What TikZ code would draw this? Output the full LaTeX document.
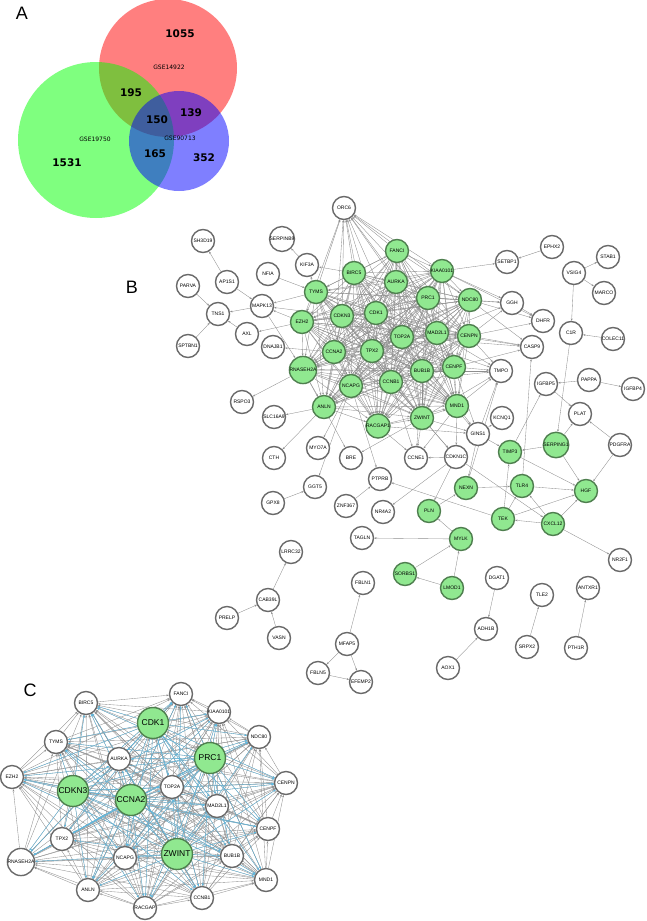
\documentclass[tikz,border=0pt]{standalone}
\usepackage{fontspec}
\setmainfont{Liberation Sans}
\newfontfamily\vennfont{DejaVu Sans}
\usetikzlibrary{arrows.meta,backgrounds}
\definecolor{edgegray}{HTML}{8E8E8E}
\definecolor{ringgray}{HTML}{6A6A6A}
\definecolor{gfill}{HTML}{90E890}
\definecolor{gring}{HTML}{4F7F4F}
\definecolor{cblue}{HTML}{5ABDE8}
\tikzset{
  arr/.style={-{Stealth[length=2.4pt,width=1.9pt]}, draw=edgegray, line width=0.35pt},
  barr/.style={-{Stealth[length=2.4pt,width=1.9pt]}, draw=cblue, line width=0.3pt},
  wn/.style={circle, draw=ringgray, line width=1.4pt, fill=white, minimum size=23pt, inner sep=0pt, font=\fontsize{5}{5}\selectfont},
  gn/.style={wn, draw=gring, fill=gfill},
  bgn/.style={gn, minimum size=31pt, font=\fontsize{8.5}{9}\selectfont},
  venn/.style={font=\vennfont\bfseries\fontsize{10.5}{12}\selectfont},
  vlab/.style={font=\vennfont\fontsize{6}{7}\selectfont},
  panel/.style={font=\fontsize{18}{20}\selectfont}
}
\begin{document}
\begin{tikzpicture}[x=1pt,y=-1pt]
\useasboundingbox (0,0) rectangle (647,921);
% ---------- Panel A ----------
\node[panel] (labA) at (22,13) {A};
\fill[red, opacity=0.5] (168,68) circle (69);
\fill[green, opacity=0.5] (96,140) circle (78);
\fill[blue, opacity=0.5] (179,141) circle (50);
\node[venn] (n1055) at (180,34) {1055};
\node[vlab] (gse1) at (169,67) {GSE14922};
\node[venn] (n195) at (131,93) {195};
\node[venn] (n150) at (157,120) {150};
\node[venn] (n139) at (191,113) {139};
\node[vlab] (gse3) at (180,138) {GSE90713};
\node[vlab] (gse2) at (95,139) {GSE19750};
\node[venn] (n165) at (155,154) {165};
\node[venn] (n352) at (204,158) {352};
\node[venn] (n1531) at (67,163) {1531};
% ---------- Panel B ----------
\node[panel] (labB) at (132,287) {B};
% core
\node[gn] (BIRC5) at (354,273) {BIRC5};
\node[gn] (FANCI) at (397,251) {FANCI};
\node[gn] (AURKA) at (396,282) {AURKA};
\node[gn] (KIAA0101) at (442,271) {KIAA0101};
\node[gn] (TYMS) at (316,292) {TYMS};
\node[gn] (CDKN3) at (342,316) {CDKN3};
\node[gn] (CDK1) at (376,313) {CDK1};
\node[gn] (PRC1) at (428,298) {PRC1};
\node[gn] (NDC80) at (470,300) {NDC80};
\node[gn] (EZH2) at (302,322) {EZH2};
\node[gn] (CCNA2) at (334,352) {CCNA2};
\node[gn] (TPX2) at (372,351) {TPX2};
\node[gn] (TOP2A) at (402,337) {TOP2A};
\node[gn] (MAD2L1) at (437,333) {MAD2L1};
\node[gn] (CENPN) at (469,336) {CENPN};
\node[gn] (RNASEH2A) at (303,370) {RNASEH2A};
\node[gn] (NCAPG) at (351,386) {NCAPG};
\node[gn] (CCNB1) at (391,382) {CCNB1};
\node[gn] (BUB1B) at (422,371) {BUB1B};
\node[gn] (CENPF) at (454,367) {CENPF};
\node[gn] (ANLN) at (324,407) {ANLN};
\node[gn] (RACGAP1) at (378,426) {RACGAP1};
\node[gn] (ZWINT) at (422,418) {ZWINT};
\node[gn] (MND1) at (457,406) {MND1};
% periphery
\node[wn] (ORC6) at (344,208) {ORC6};
\node[wn] (SH3D19) at (203,241) {SH3D19};
\node[wn] (SERPINB9) at (282,239) {SERPINB9};
\node[wn] (KIF3A) at (307,265) {KIF3A};
\node[wn] (NFIA) at (268,274) {NFIA};
\node[wn] (AP1S1) at (227,282) {AP1S1};
\node[wn] (PARVA) at (188,286) {PARVA};
\node[wn] (MAPK13) at (262,306) {MAPK13};
\node[wn] (TNS1) at (218,314) {TNS1};
\node[wn] (AXL) at (247,334) {AXL};
\node[wn] (SPTBN1) at (188,346) {SPTBN1};
\node[wn] (DNAJB1) at (273,347) {DNAJB1};
\node[wn] (RSPO3) at (242,402) {RSPO3};
\node[wn] (SLC16A9) at (274,417) {SLC16A9};
\node[wn] (MYO7A) at (318,448) {MYO7A};
\node[wn] (BRE) at (351,458) {BRE};
\node[wn] (CTH) at (274,458) {CTH};
\node[wn] (GGT5) at (315,487) {GGT5};
\node[wn] (GPX8) at (273,503) {GPX8};
\node[wn] (ZNF367) at (346,506) {ZNF367};
\node[wn] (PTPRB) at (380,479) {PTPRB};
\node[wn] (NR4A2) at (383,512) {NR4A2};
\node[wn] (CCNE1) at (416,458) {CCNE1};
\node[wn] (CDKN1C) at (456,457) {CDKN1C};
\node[wn] (GINS1) at (478,434) {GINS1};
\node[wn] (KCNQ1) at (502,418) {KCNQ1};
\node[wn] (TMPO) at (501,371) {TMPO};
\node[wn] (CASP9) at (532,347) {CASP9};
\node[wn] (DHFR) at (543,321) {DHFR};
\node[wn] (GGH) at (512,303) {GGH};
\node[wn] (SETBP1) at (507,262) {SETBP1};
\node[wn] (EPHX2) at (552,247) {EPHX2};
\node[wn] (VSIG4) at (574,273) {VSIG4};
\node[wn] (STAB1) at (608,257) {STAB1};
\node[wn] (MARCO) at (604,293) {MARCO};
\node[wn] (C1R) at (571,333) {C1R};
\node[wn] (COLEC11) at (613,339) {COLEC11};
\node[wn] (IGFBP5) at (546,384) {IGFBP5};
\node[wn] (PAPPA) at (589,380) {PAPPA};
\node[wn] (IGFBP4) at (633,389) {IGFBP4};
\node[wn] (PLAT) at (580,414) {PLAT};
\node[wn] (PDGFRA) at (620,445) {PDGFRA};
\node[gn] (SERPING1) at (556,445) {SERPING1};
\node[gn] (TIMP3) at (510,452) {TIMP3};
\node[gn] (NEXN) at (466,488) {NEXN};
\node[gn] (TLR4) at (522,486) {TLR4};
\node[gn] (HGF) at (586,491) {HGF};
\node[gn] (PLN) at (429,511) {PLN};
\node[gn] (TEK) at (503,519) {TEK};
\node[gn] (CXCL12) at (553,524) {CXCL12};
\node[gn] (MYLK) at (461,539) {MYLK};
\node[wn] (TAGLN) at (362,538) {TAGLN};
\node[wn] (NR2F1) at (620,560) {NR2F1};
\node[gn] (SORBS1) at (405,574) {SORBS1};
\node[gn] (LMOD1) at (452,588) {LMOD1};
\node[wn] (DGAT1) at (497,578) {DGAT1};
\node[wn] (TLE2) at (542,595) {TLE2};
\node[wn] (ANTXR1) at (588,588) {ANTXR1};
\node[wn] (ADH1B) at (486,629) {ADH1B};
\node[wn] (SRPX2) at (527,647) {SRPX2};
\node[wn] (PTH1R) at (576,648) {PTH1R};
\node[wn] (AOX1) at (448,668) {AOX1};
\node[wn] (LRRC32) at (291,552) {LRRC32};
\node[wn] (FBLN1) at (363,583) {FBLN1};
\node[wn] (CAB39L) at (268,600) {CAB39L};
\node[wn] (PRELP) at (227,618) {PRELP};
\node[wn] (VASN) at (279,638) {VASN};
\node[wn] (MFAP5) at (347,644) {MFAP5};
\node[wn] (FBLN5) at (318,673) {FBLN5};
\node[wn] (EFEMP2) at (361,682) {EFEMP2};
% ---------- Panel C ----------
\node[panel] (labC) at (30,690) {C};
\node[wn] (cFANCI) at (181,694) {FANCI};
\node[wn] (cBIRC5) at (86,703) {BIRC5};
\node[bgn] (cCDK1) at (153,723) {CDK1};
\node[wn] (cKIAA0101) at (219,712) {KIAA0101};
\node[wn] (cTYMS) at (56,742) {TYMS};
\node[wn] (cNDC80) at (259,737) {NDC80};
\node[bgn] (cPRC1) at (210,758) {PRC1};
\node[wn] (cAURKA) at (119,759) {AURKA};
\node[wn] (cEZH2) at (12,777) {EZH2};
\node[wn] (cCENPN) at (286,783) {CENPN};
\node[wn] (cTOP2A) at (172,787) {TOP2A};
\node[bgn] (cCDKN3) at (73,791) {CDKN3};
\node[bgn] (cCCNA2) at (131,800) {CCNA2};
\node[wn] (cMAD2L1) at (217,806) {MAD2L1};
\node[wn] (cCENPF) at (268,829) {CENPF};
\node[wn] (cTPX2) at (62,839) {TPX2};
\node[bgn] (cZWINT) at (177,854) {ZWINT};
\node[wn] (cBUB1B) at (232,856) {BUB1B};
\node[wn] (cNCAPG) at (125,858) {NCAPG};
\node[wn] (cRNASEH2A) at (21,862) {RNASEH2A};
\node[wn] (cMND1) at (266,880) {MND1};
\node[wn] (cANLN) at (88,890) {ANLN};
\node[wn] (cCCNB1) at (202,898) {CCNB1};
\node[wn] (cRACGAP) at (145,908) {RACGAP};
% ---------- Edges ----------
\begin{pgfonlayer}{background}
\def\corelist{BIRC5,FANCI,AURKA,KIAA0101,TYMS,CDKN3,CDK1,PRC1,NDC80,EZH2,CCNA2,TPX2,TOP2A,MAD2L1,CENPN,RNASEH2A,NCAPG,CCNB1,BUB1B,CENPF,ANLN,RACGAP1,ZWINT,MND1}
\foreach \a [count=\i] in \corelist {
  \foreach \b [count=\j] in \corelist {
    \ifnum\j>\i \draw[arr] (\a) -- (\b); \fi
  }
}
\foreach \a in {TYMS,BIRC5,CDKN3,CDK1,FANCI,AURKA,KIAA0101,PRC1,EZH2,TPX2,CCNA2,TOP2A,NDC80,MAD2L1}
  \draw[arr] (\a) -- (ORC6);
\foreach \a in {NDC80,PRC1,CENPN,MAD2L1,KIAA0101} \draw[arr] (\a) -- (GGH);
\foreach \a in {KIAA0101,NDC80,CENPN,GGH} \draw[arr] (\a) -- (DHFR);
\foreach \a in {CENPN,TOP2A,NDC80,MAD2L1,CENPF,TLR4} \draw[arr] (\a) -- (CASP9);
\foreach \a in {CENPN,CENPF,BUB1B,MND1,ZWINT,MAD2L1,CCNB1,TOP2A,GINS1,NEXN} \draw[arr] (\a) -- (TMPO);
\foreach \a in {MND1,ZWINT,CENPF,BUB1B,RACGAP1} \draw[arr] (\a) -- (GINS1);
\foreach \a in {ZWINT,RACGAP1,CCNB1,MND1,BUB1B,CDKN1C} \draw[arr] (\a) -- (CCNE1);
\foreach \a in {ZWINT,MND1,CCNB1} \draw[arr] (\a) -- (CDKN1C);
\draw[arr] (KIAA0101) -- (SETBP1);
\draw[arr] (EPHX2) -- (SETBP1);
\draw[arr] (BIRC5) -- (KIF3A);
\draw[arr] (TYMS) -- (KIF3A);
\draw[arr] (KIF3A) -- (SERPINB9);
\draw[arr] (NFIA) -- (TYMS);
\draw[arr] (AP1S1) -- (SH3D19);
\draw[arr] (AP1S1) -- (MAPK13);
\draw[arr] (PARVA) -- (TNS1);
\draw[arr] (MAPK13) -- (TNS1);
\draw[arr] (AXL) -- (TNS1);
\draw[arr] (SPTBN1) -- (TNS1);
\draw[arr] (EZH2) -- (MAPK13);
\draw[arr] (CDKN3) -- (MAPK13);
\draw[arr] (TYMS) -- (MAPK13);
\draw[arr] (MAPK13) -- (RNASEH2A);
\draw[arr] (EZH2) -- (AXL);
\draw[arr] (CCNA2) -- (DNAJB1);
\draw[arr] (RNASEH2A) -- (RSPO3);
\draw[arr] (ANLN) -- (SLC16A9);
\draw[arr] (ANLN) -- (CTH);
\draw[arr] (NCAPG) -- (MYO7A);
\draw[arr] (RNASEH2A) -- (BRE);
\draw[arr] (ZWINT) -- (BRE);
\draw[arr] (NCAPG) -- (GGT5);
\draw[arr] (GPX8) -- (GGT5);
\draw[arr] (NCAPG) -- (PTPRB);
\draw[arr] (ZNF367) -- (PTPRB);
\draw[arr] (TEK) -- (PTPRB);
\draw[arr] (CDKN1C) -- (NR4A2);
\draw[arr] (CDKN1C) -- (PLN);
\draw[arr] (CDKN1C) -- (CXCL12);
\draw[arr] (GINS1) -- (KCNQ1);
\draw[arr] (GINS1) -- (TIMP3);
\draw[arr] (GINS1) -- (NEXN);
\draw[arr] (VSIG4) -- (STAB1);
\draw[arr] (VSIG4) -- (MARCO);
\draw[arr] (VSIG4) -- (C1R);
\draw[arr] (COLEC11) -- (C1R);
\draw[arr] (C1R) -- (SERPING1);
\draw[arr] (PAPPA) -- (IGFBP5);
\draw[arr] (PAPPA) -- (IGFBP4);
\draw[arr] (IGFBP5) -- (PLAT);
\draw[arr] (TIMP3) -- (IGFBP5);
\draw[arr] (SERPING1) -- (PLAT);
\draw[arr] (PDGFRA) -- (PLAT);
\draw[arr] (SERPING1) -- (TIMP3);
\draw[arr] (SERPING1) -- (HGF);
\draw[arr] (PDGFRA) -- (HGF);
\draw[arr] (TIMP3) -- (HGF);
\draw[arr] (NEXN) -- (TLR4);
\draw[arr] (TLR4) -- (HGF);
\draw[arr] (TEK) -- (TLR4);
\draw[arr] (TEK) -- (HGF);
\draw[arr] (TEK) -- (TIMP3);
\draw[arr] (CXCL12) -- (TEK);
\draw[arr] (CXCL12) -- (HGF);
\draw[arr] (CXCL12) -- (TLR4);
\draw[arr] (CXCL12) -- (NR2F1);
\draw[arr] (PLN) -- (NEXN);
\draw[arr] (MYLK) -- (PLN);
\draw[arr] (SORBS1) -- (MYLK);
\draw[arr] (LMOD1) -- (MYLK);
\draw[arr] (LMOD1) -- (SORBS1);
\draw[arr] (MYLK) -- (TAGLN);
\draw[arr] (DGAT1) -- (ADH1B);
\draw[arr] (AOX1) -- (ADH1B);
\draw[arr] (SRPX2) -- (TLE2);
\draw[arr] (PTH1R) -- (ANTXR1);
\draw[arr] (PRELP) -- (CAB39L);
\draw[arr] (CAB39L) -- (LRRC32);
\draw[arr] (VASN) -- (CAB39L);
\draw[arr] (MFAP5) -- (FBLN1);
\draw[arr] (MFAP5) -- (FBLN5);
\draw[arr] (MFAP5) -- (EFEMP2);
\draw[arr] (FBLN5) -- (EFEMP2);
% panel C
\def\clist{cFANCI,cBIRC5,cKIAA0101,cTYMS,cNDC80,cAURKA,cEZH2,cCENPN,cTOP2A,cMAD2L1,cCENPF,cTPX2,cBUB1B,cNCAPG,cRNASEH2A,cMND1,cANLN,cCCNB1,cRACGAP,cCDK1,cPRC1,cCDKN3,cCCNA2,cZWINT}
\foreach \a [count=\i] in \clist {
  \foreach \b [count=\j] in \clist {
    \ifnum\j>\i \draw[arr] (\b) -- (\a); \fi
  }
}
\foreach \a [count=\i] in {cCDK1,cPRC1,cCDKN3,cCCNA2,cZWINT} {
  \foreach \b [count=\j] in \clist {
    \ifnum\j<20 \draw[barr] (\a) -- (\b); \fi
  }
}
\end{pgfonlayer}
\end{tikzpicture}
\end{document}
